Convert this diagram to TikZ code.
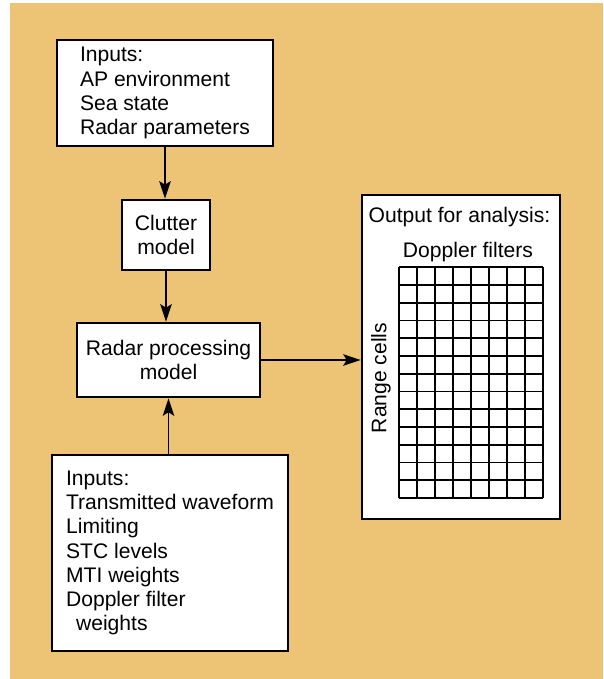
\documentclass[tikz,border=0pt]{standalone}
\usepackage{fontspec}
\setmainfont{Liberation Sans}
\usetikzlibrary{arrows.meta}
\definecolor{sand}{RGB}{237,196,118}

\begin{document}
\begin{tikzpicture}[
    box/.style={draw, line width=1.4pt, fill=white},
    feed/.style={-{Stealth[length=10pt,width=6.5pt,inset=2pt]}, line width=1pt},
    font=\fontsize{12}{13.7}\selectfont]
    \fill[white] (0,0) rectangle (12.06,13.58);
    \fill[sand] (0.2,0) rectangle (12.06,13.52);
    \node[box, minimum width=4.32cm, minimum height=2.12cm, align=left] (topin) at (3.30,11.72)
        {Inputs:\\AP environment\\Sea state\\Radar parameters};
    \node[box, minimum width=1.76cm, minimum height=1.4cm, align=center] (clutter) at (3.32,8.88)
        {Clutter\\model};
    \node[box, minimum width=3.66cm, minimum height=1.48cm, align=center] (radar) at (3.37,6.38)
        {Radar processing\\model};
    \node[box, minimum width=4.72cm, minimum height=3.92cm, align=left] (botin) at (3.40,2.52)
        {Inputs:\\Transmitted waveform\\Limiting\\STC levels\\MTI weights\\Doppler filter\\\hspace*{0.2cm}weights};
    \node[box, minimum width=3.96cm, minimum height=6.48cm] (output) at (9.22,6.44) {};
    \node (outlbl) at (9.19,9.24) {Output for analysis:};
    \node (dopplbl) at (9.36,8.54) {Doppler filters};
    \node[rotate=90] (rangelbl) at (7.62,6.02) {Range cells};
    \draw[line width=1.1pt, shift={(7.98,3.62)}, xstep=0.36, ystep=0.355] (0,0) grid (2.881,4.616);
    \draw[feed] (topin.south) -- (topin.south |- clutter.north);
    \draw[feed] (clutter.south) -- (clutter.south |- radar.north);
    \draw[feed] (radar.south |- botin.north) -- (radar.south);
    \draw[feed] (radar.east) -- (radar.east -| output.west);
\end{tikzpicture}
\end{document}
